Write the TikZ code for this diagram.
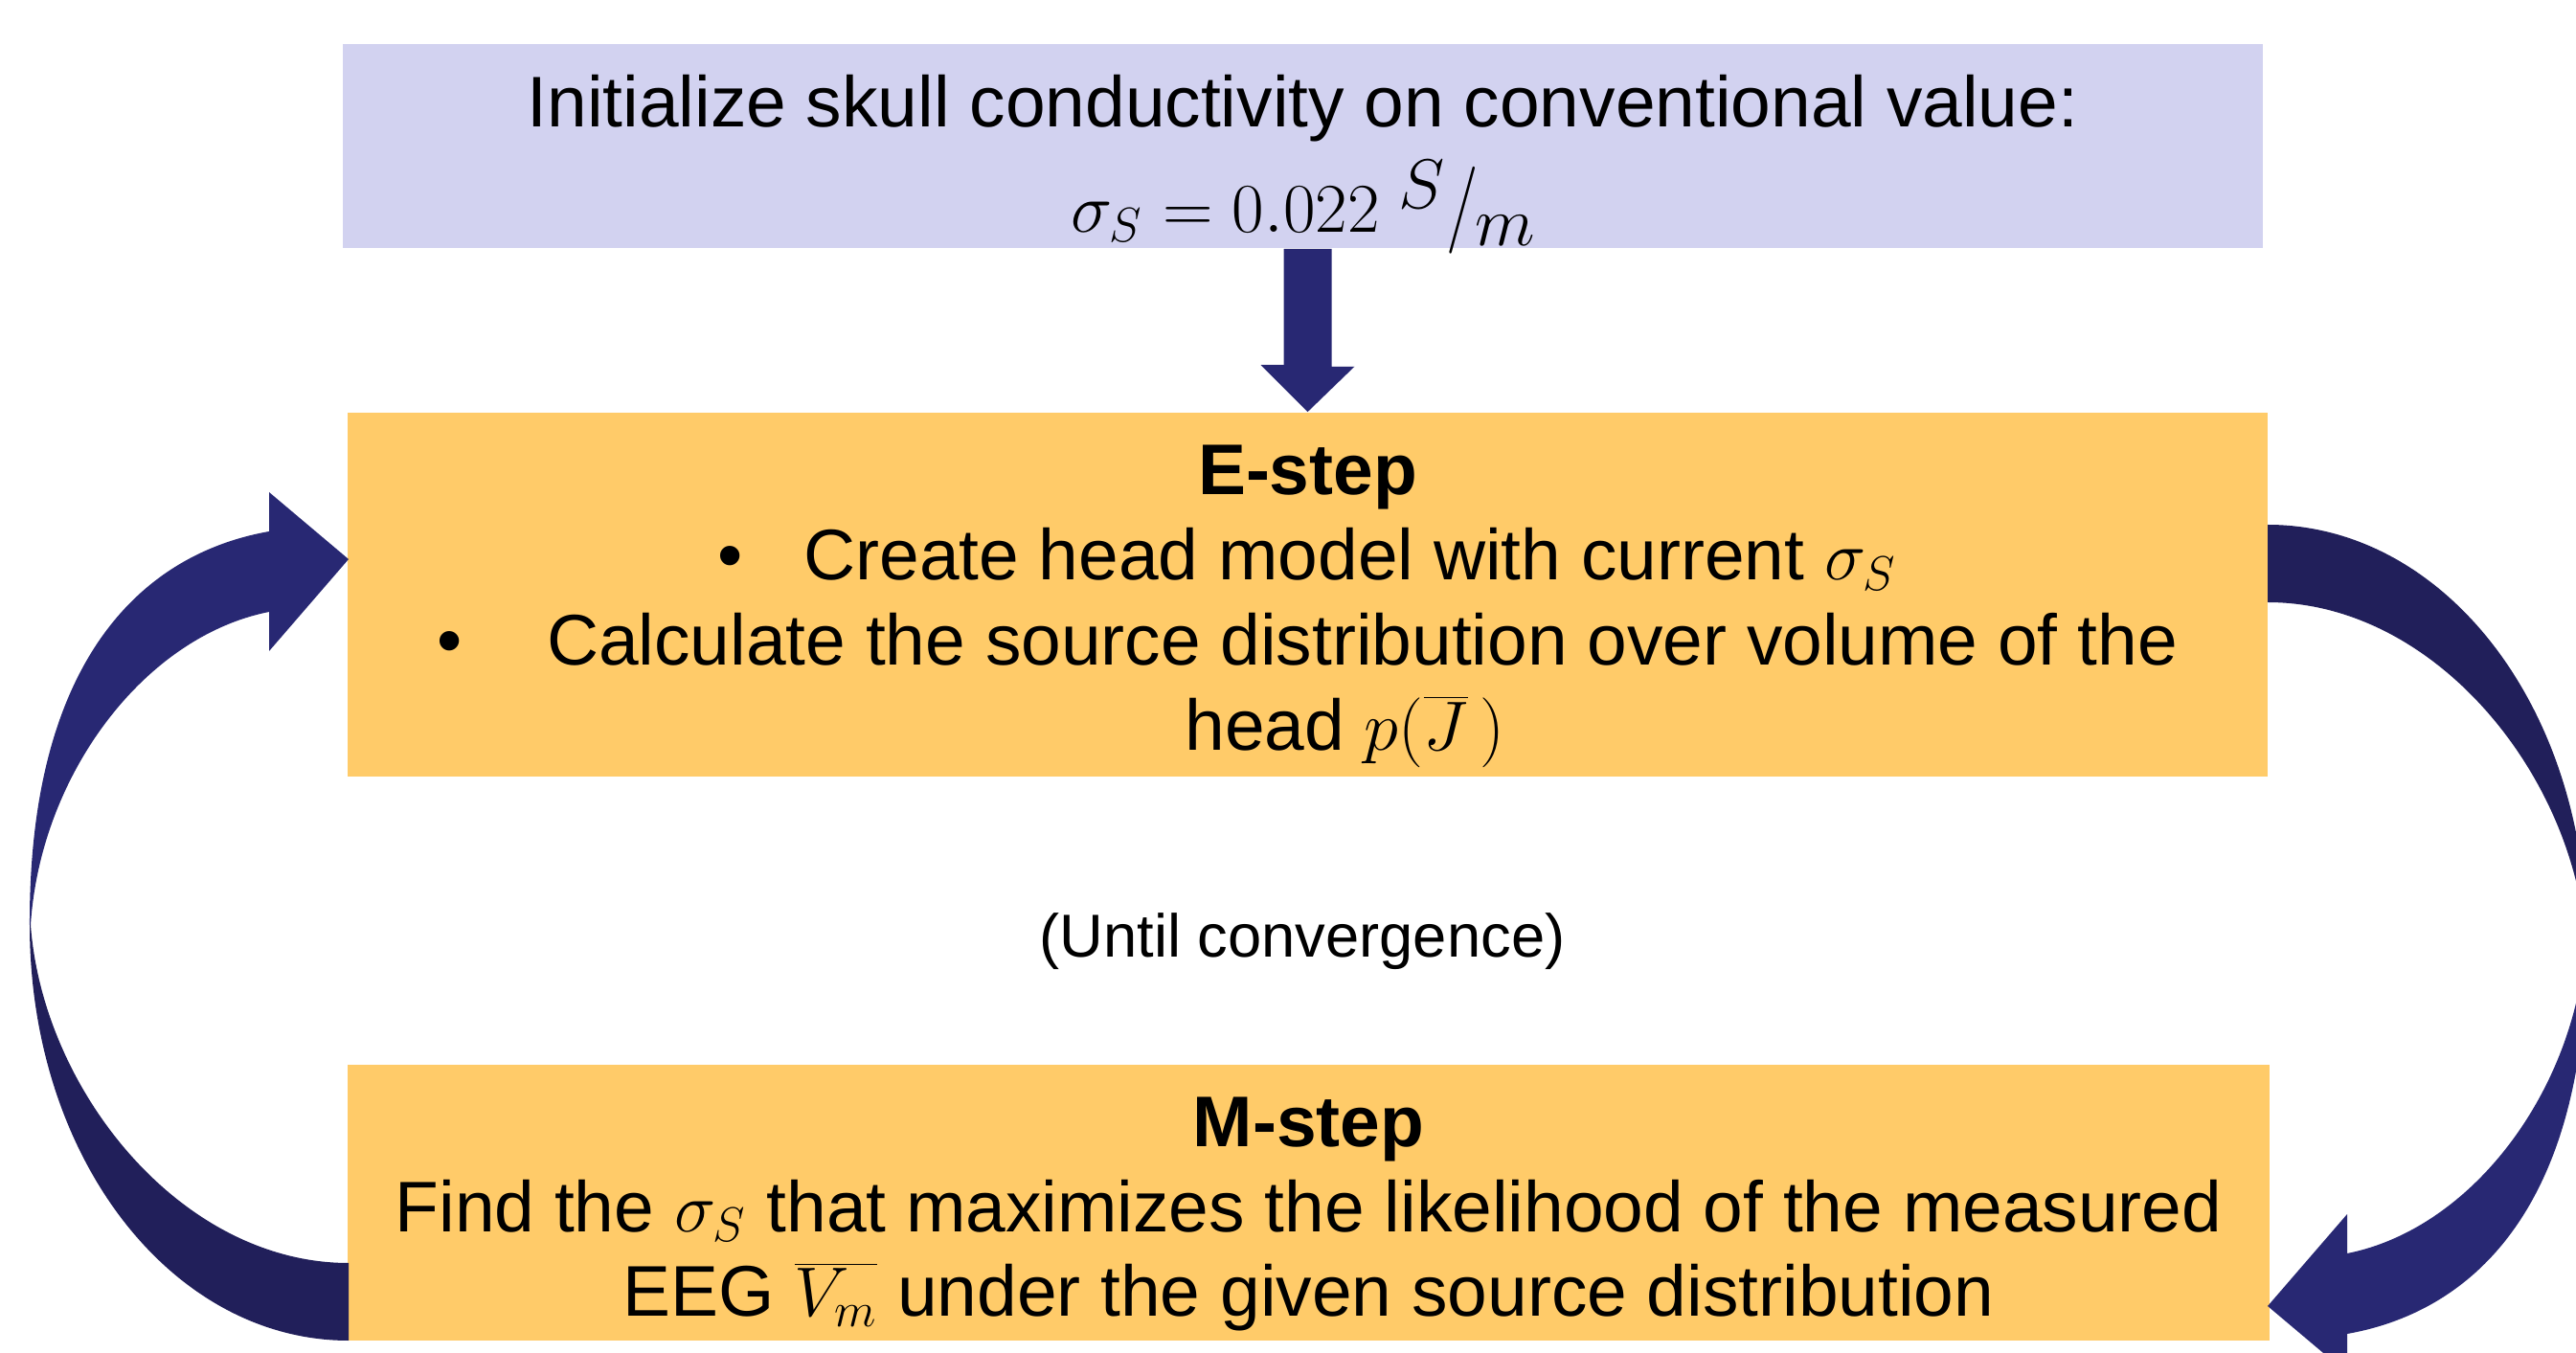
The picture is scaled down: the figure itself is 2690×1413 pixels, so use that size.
\documentclass[tikz,border=0pt]{standalone}
\usepackage{fontspec}
\setmainfont{Liberation Sans}
\usetikzlibrary{arrows.meta}
\definecolor{lav}{HTML}{D2D2F0}
\definecolor{gold}{HTML}{FFCB69}
\definecolor{navyL}{HTML}{282873}
\definecolor{navyD}{HTML}{211F5A}
\newcommand{\slashunit}[2]{\raisebox{0.33em}{$#1$}\kern0.02em\scalebox{1}[1.25]{$/$}\kern-0.05em\raisebox{-0.2em}{$#2$}}
\begin{document}
\begin{tikzpicture}[x=0.01cm,y=-0.01cm,
  box/.style={rectangle, inner sep=0pt},
  initbox/.style={box, fill=lav},
  stepbox/.style={box, fill=gold},
  txt/.style={inner sep=0pt, align=center, text=black,
    font=\fontsize{21.3}{25.3}\selectfont},
  looparrow/.pic={
    % back (darker) half
    \fill[navyD] (364,1400) .. controls (180,1400) and (31,1210) .. (31,966)
       -- (32,966) .. controls (45,1140) and (190,1319) .. (364,1319) -- cycle;
    % front (lighter) half with head
    \fill[navyL] (31,966) .. controls (30,700) and (140,580) .. (281,555)
       -- (281,514) -- (364,584) -- (281,680) -- (281,639)
       .. controls (150,665) and (42,810) .. (32,966) -- cycle;
  }]
\useasboundingbox (0,0) rectangle (2690,1413);
\clip (0,0) rectangle (2690,1413);

\node[initbox, minimum width=20.04cm, minimum height=2.13cm] (init) at (1360.5,152.5) {};
\node[txt] (inittext) at ([yshift=-0.19cm]init.center)
  {Initialize skull conductivity on conventional value:\\[4.5pt]
   $\sigma_S = 0.022\;\slashunit{S}{m}$};

\node[stepbox, minimum width=20.03cm, minimum height=3.80cm] (estep) at (1365.5,621) {};
\node[txt] (etext) at ([yshift=-0.12cm]estep.center)
  {\textbf{E-step}\\
   •\hspace{18pt}Create head model with current $\sigma_S$\\
   •\hspace{25pt}Calculate the source distribution over volume of the\\
   \hspace*{22pt}head $p(\overline{J}\,)$};

\node[stepbox, minimum width=20.05cm, minimum height=2.88cm] (mstep) at (1366.5,1256) {};
\node[txt] (mtext) at ([yshift=-0.12cm]mstep.center)
  {\textbf{M-step}\\
   Find the $\sigma_S$ that maximizes the likelihood of the measured\\
   EEG $\overline{V_m}$ under the given source distribution};

\node[font=\fontsize{18}{22}\selectfont] (until) at (1360,983) {(Until convergence)};

% straight arrow from init to E-step
\coordinate (dtip) at (estep.north);
\fill[navyL] (init.south -| dtip) ++(-25,0) -- ++(50,0) -- ++(0,123) -- ++(24,0)
   -- (dtip) -- ++(-49,-49) -- ++(24,0) -- cycle;

% loop arrows
\pic at (0,0) {looparrow};
\pic[rotate=180] at (2732,1948) {looparrow};
\end{tikzpicture}
\end{document}
